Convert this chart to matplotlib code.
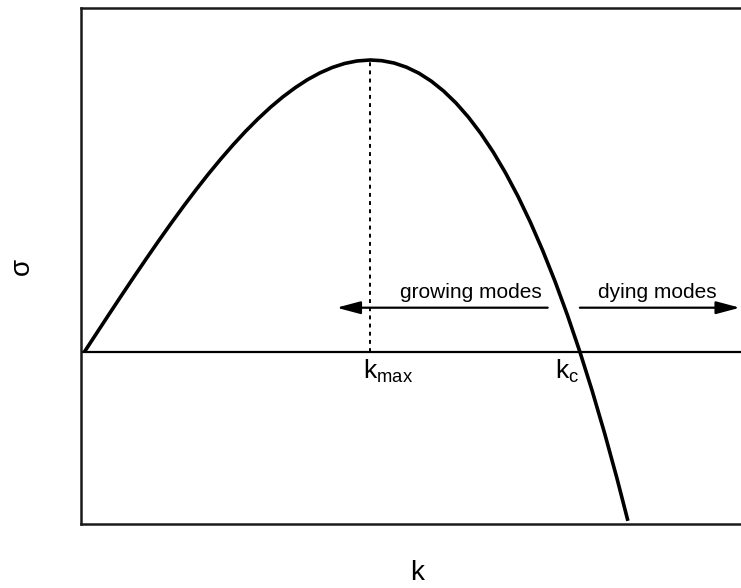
import numpy as np
import matplotlib
matplotlib.use("Agg")
import matplotlib.pyplot as plt

plt.rcParams['font.family'] = ['Liberation Sans', 'DejaVu Sans']
plt.rcParams['mathtext.fontset'] = 'custom'
plt.rcParams['mathtext.rm'] = 'Liberation Sans'
plt.rcParams['mathtext.it'] = 'Liberation Sans'

# growth rate sigma against wavenumber k
k = [0.0, 0.025, 0.05, 0.075, 0.10, 0.125, 0.15, 0.175, 0.20, 0.225,
     0.25, 0.275, 0.30, 0.325, 0.35, 0.375, 0.40, 0.425, 0.45, 0.475,
     0.50, 0.525, 0.55, 0.577, 0.60, 0.625, 0.65, 0.675, 0.70, 0.725,
     0.75, 0.775, 0.80, 0.825, 0.85, 0.875, 0.90, 0.925, 0.95, 0.975,
     1.00, 1.025, 1.05, 1.075, 1.097]
sigma = [0.0, 0.0250, 0.0499, 0.0746, 0.099, 0.1230, 0.1466, 0.1696,
         0.192, 0.2136, 0.2344, 0.2542, 0.273, 0.2907, 0.3071, 0.3223,
         0.336, 0.3482, 0.3589, 0.3678, 0.375, 0.3803, 0.3836, 0.3849,
         0.384, 0.3809, 0.3754, 0.3675, 0.357, 0.3439, 0.3281, 0.3095,
         0.288, 0.2635, 0.2359, 0.2051, 0.171, 0.1335, 0.0926, 0.0481,
         0.0, -0.0519, -0.1076, -0.1673, -0.2231]

k_max = 0.577
sigma_max = 0.3849
k_c = 1.0

fig = plt.figure(figsize=(7.41, 5.88), dpi=100)
ax = fig.add_axes([0.1093, 0.1088, 0.8907, 0.8776])

ax.plot(k, sigma, color='black', lw=2.6, solid_capstyle='butt',
        solid_joinstyle='round', zorder=3)
ax.axhline(0, color='black', lw=1.6)
ax.plot([k_max, k_max], [0, sigma_max], color='black', lw=1.4,
        linestyle=(0, (2.0, 2.2)))

ax.set_xlim(-0.0071, 1.3253)
ax.set_ylim(-0.2273, 0.4535)
ax.set_xticks([])
ax.set_yticks([])
ax.spines['right'].set_visible(False)
for s in ('left', 'top', 'bottom'):
    ax.spines[s].set_linewidth(1.8)
    ax.spines[s].set_color('#1a1a1a')

# growing / dying mode arrows
arrow = dict(arrowstyle='-|>,head_length=0.9,head_width=0.24', color='black',
             lw=1.6, shrinkA=0, shrinkB=0, mutation_scale=16)
ax.annotate('', xy=(0.509, 0.0581), xytext=(0.935, 0.0581), arrowprops=arrow)
ax.annotate('', xy=(1.323, 0.0581), xytext=(1.0, 0.0581), arrowprops=arrow)
ax.text(0.780, 0.0788, 'growing modes', fontsize=15, ha='center', va='center')
ax.text(1.156, 0.0788, 'dying modes', fontsize=15, ha='center', va='center')

ax.text(0.562, -0.008, r'$\mathrm{k_{max}}$', fontsize=19, ha='left', va='top')
ax.text(0.949, -0.008, r'$\mathrm{k_{c}}$', fontsize=19, ha='left', va='top')

ax.set_xlabel('k', fontsize=20)
ax.set_ylabel('σ', fontsize=20)
ax.xaxis.set_label_coords(0.51, -0.07)
ax.yaxis.set_label_coords(-0.07, 0.5)

fig.savefig('out.png', dpi=100)
